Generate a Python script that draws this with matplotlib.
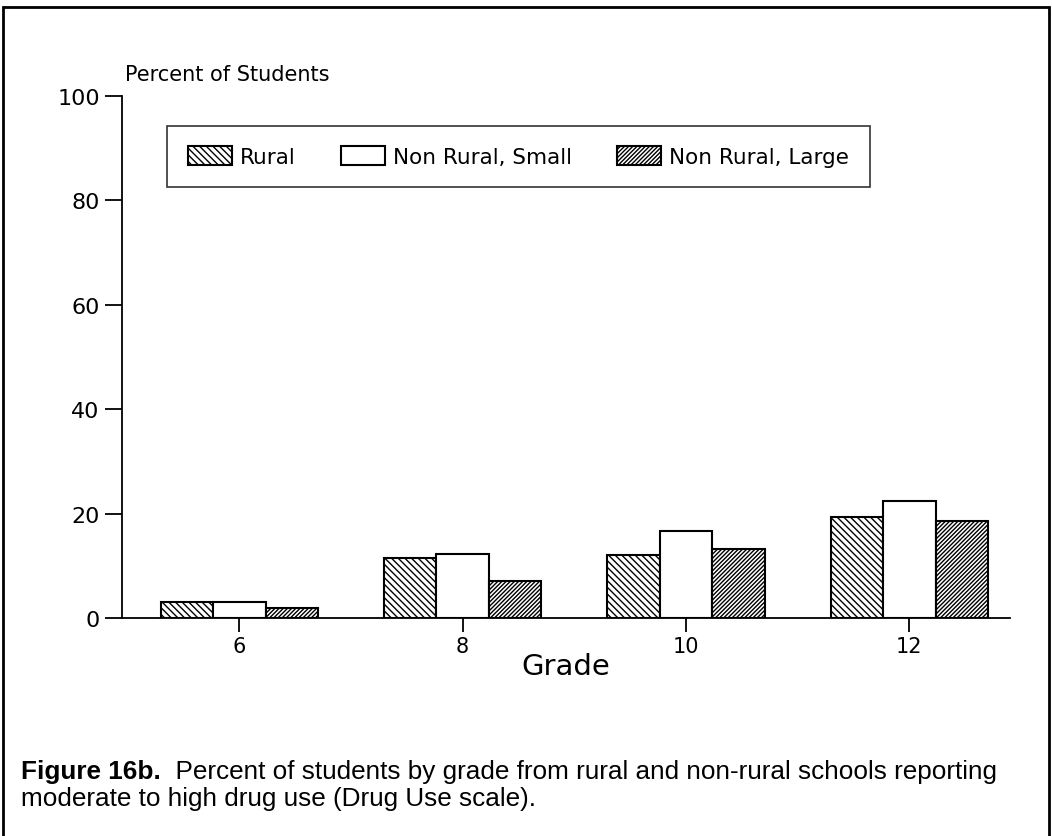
import numpy as np
import matplotlib
matplotlib.use("Agg")
import matplotlib.pyplot as plt
from matplotlib.patches import Rectangle

# data
grades = [6, 8, 10, 12]
rural = [3.1, 11.5, 12.0, 19.3]
nonrural_small = [3.0, 12.3, 16.7, 22.4]
nonrural_large = [1.9, 7.0, 13.3, 18.5]
series_names = ["Rural", "Non Rural, Small", "Non Rural, Large"]
yticks = [0, 20, 40, 60, 80, 100]

plt.rcParams["font.family"] = ["DejaVu Sans"]
plt.rcParams["hatch.linewidth"] = 1.0

fig = plt.figure(figsize=(10.52, 8.37), dpi=100)
ax = fig.add_axes([0.116, 0.2605, 0.844, 0.6235])

x = np.array(grades, dtype=float)
w = 0.47
ax.bar(x - w, rural, w, facecolor="white", edgecolor="black", linewidth=1.5,
       hatch="\\\\\\\\\\", label=series_names[0])
ax.bar(x, nonrural_small, w, facecolor="white", edgecolor="black", linewidth=1.5,
       label=series_names[1])
ax.bar(x + w, nonrural_large, w, facecolor="white", edgecolor="black", linewidth=1.5,
       hatch="////////", label=series_names[2])

ax.set_xlim(4.95, 12.9)
ax.set_ylim(0, 100)
ax.set_xticks(grades)
ax.set_yticks(yticks)
ax.tick_params(axis="y", direction="out", length=12, width=1.3, labelsize=16, pad=4)
ax.tick_params(axis="x", direction="out", length=10, width=1.3, labelsize=15, pad=3)
for s in ["top", "right"]:
    ax.spines[s].set_visible(False)
for s in ["left", "bottom"]:
    ax.spines[s].set_linewidth(1.3)

ax.set_xlabel("Grade", fontsize=21, labelpad=-3)
fig.text(0.119, 0.910, "Percent of Students", fontsize=15, va="center", ha="left")

leg = ax.legend(loc="upper left", bbox_to_anchor=(0.051, 0.943), ncol=3,
                fontsize=15.5, frameon=True, fancybox=False, edgecolor="black",
                handlelength=2.05, handleheight=0.95, columnspacing=2.1,
                handletextpad=0.37, borderpad=0.95, borderaxespad=0)
leg.get_frame().set_linewidth(1.2)

# caption
cap_size = 18.8
cap_font = ["Liberation Sans", "DejaVu Sans"]
t1 = fig.text(0.020, 0.069, "Figure 16b.", fontsize=cap_size, fontweight="bold",
              family=cap_font, va="baseline", ha="left")
ax.annotate("  Percent of students by grade from rural and non-rural schools reporting",
            xy=(1, 0), xycoords=t1, va="bottom", ha="left", fontsize=cap_size,
            family=cap_font, annotation_clip=False)
fig.text(0.020, 0.037, "moderate to high drug use (Drug Use scale).", fontsize=cap_size,
         family=cap_font, va="baseline", ha="left")

# outer frame of the scanned page
fig.add_artist(Rectangle((0.003, -0.01), 0.994, 1.0, transform=fig.transFigure,
                         fill=False, edgecolor="black", linewidth=2))

fig.savefig("out.png", dpi=100)
